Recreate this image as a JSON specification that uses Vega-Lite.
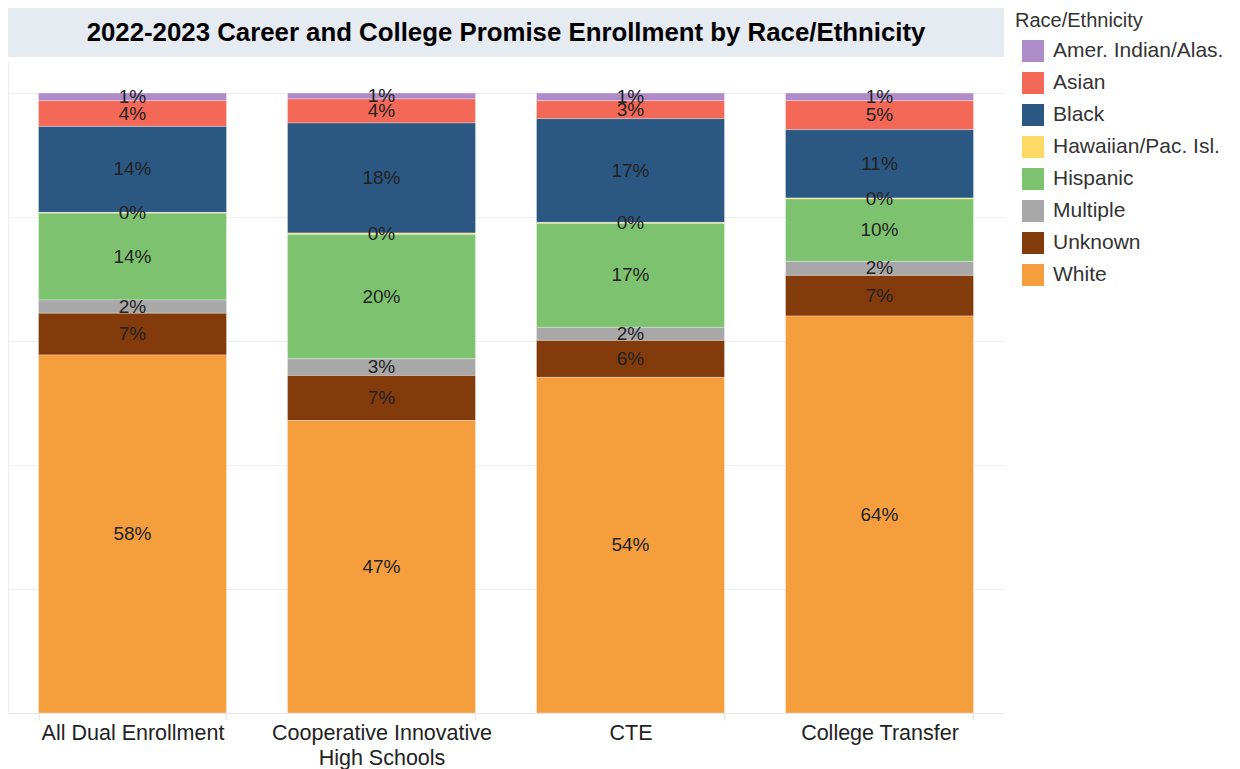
{
  "$schema": "https://vega.github.io/schema/vega-lite/v6.json",
  "padding": {"left": 8, "top": 8, "right": 0, "bottom": 0},
  "background": "white",
  "spacing": 5,
  "config": {"font": "Liberation Sans", "view": {"stroke": null}},
  "resolve": {"scale": {"color": "shared"}, "legend": {"color": "shared"}},
  "datasets": {
    "enroll": [
      {"program": "All Dual Enrollment", "race": "Amer. Indian/Alas.", "value": 0.0124},
      {"program": "All Dual Enrollment", "race": "Asian", "value": 0.0415},
      {"program": "All Dual Enrollment", "race": "Black", "value": 0.1387},
      {"program": "All Dual Enrollment", "race": "Hawaiian/Pac. Isl.", "value": 0.0012},
      {"program": "All Dual Enrollment", "race": "Hispanic", "value": 0.1400},
      {"program": "All Dual Enrollment", "race": "Multiple", "value": 0.0215},
      {"program": "All Dual Enrollment", "race": "Unknown", "value": 0.0672},
      {"program": "All Dual Enrollment", "race": "White", "value": 0.5775},
      {"program": "Cooperative Innovative High Schools", "race": "Amer. Indian/Alas.", "value": 0.0097},
      {"program": "Cooperative Innovative High Schools", "race": "Asian", "value": 0.0387},
      {"program": "Cooperative Innovative High Schools", "race": "Black", "value": 0.1774},
      {"program": "Cooperative Innovative High Schools", "race": "Hawaiian/Pac. Isl.", "value": 0.0025},
      {"program": "Cooperative Innovative High Schools", "race": "Hispanic", "value": 0.2005},
      {"program": "Cooperative Innovative High Schools", "race": "Multiple", "value": 0.0269},
      {"program": "Cooperative Innovative High Schools", "race": "Unknown", "value": 0.0726},
      {"program": "Cooperative Innovative High Schools", "race": "White", "value": 0.4717},
      {"program": "CTE", "race": "Amer. Indian/Alas.", "value": 0.0124},
      {"program": "CTE", "race": "Asian", "value": 0.0290},
      {"program": "CTE", "race": "Black", "value": 0.1673},
      {"program": "CTE", "race": "Hawaiian/Pac. Isl.", "value": 0.0016},
      {"program": "CTE", "race": "Hispanic", "value": 0.1677},
      {"program": "CTE", "race": "Multiple", "value": 0.0210},
      {"program": "CTE", "race": "Unknown", "value": 0.0597},
      {"program": "CTE", "race": "White", "value": 0.5413},
      {"program": "College Transfer", "race": "Amer. Indian/Alas.", "value": 0.0124},
      {"program": "College Transfer", "race": "Asian", "value": 0.0468},
      {"program": "College Transfer", "race": "Black", "value": 0.1102},
      {"program": "College Transfer", "race": "Hawaiian/Pac. Isl.", "value": 0.0016},
      {"program": "College Transfer", "race": "Hispanic", "value": 0.1006},
      {"program": "College Transfer", "race": "Multiple", "value": 0.0226},
      {"program": "College Transfer", "race": "Unknown", "value": 0.0655},
      {"program": "College Transfer", "race": "White", "value": 0.6403}
    ]
  },
  "vconcat": [
    {
      "width": 996,
      "height": 49,
      "view": {"fill": "#e6eaf1", "stroke": null},
      "data": {"values": [{"t": "2022-2023 Career and College Promise Enrollment by Race/Ethnicity"}]},
      "mark": {"type": "text", "fontSize": 25.8, "fontWeight": "bold", "color": "#000000"},
      "encoding": {"text": {"field": "t", "type": "nominal"}}
    },
    {
      "width": 996,
      "height": 651,
      "data": {"name": "enroll"},
      "transform": [
        {"stack": "value", "groupby": ["program"], "sort": [{"field": "race", "order": "descending"}], "as": ["y0", "y1"]},
        {"calculate": "(datum.y0 + datum.y1) / 2", "as": "mid"}
      ],
      "encoding": {
        "x": {
          "field": "program",
          "type": "nominal",
          "sort": ["All Dual Enrollment", "Cooperative Innovative High Schools", "CTE", "College Transfer"],
          "scale": {"paddingInner": 0.245, "paddingOuter": 0.1225},
          "axis": {
            "title": null,
            "labelAngle": 0,
            "labelFontSize": 21.5,
            "labelColor": "#222222",
            "labelPadding": 2,
            "labelLineHeight": 25,
            "labelLimit": 400,
            "labelExpr": "datum.label == 'Cooperative Innovative High Schools' ? ['Cooperative Innovative', 'High Schools'] : datum.label",
            "tickBand": "extent",
            "ticks": true,
            "tickSize": 7,
            "tickColor": "#e6e6e6",
            "domainColor": "#e6e6e6",
            "grid": false
          }
        }
      },
      "layer": [
        {
          "mark": {"type": "bar", "stroke": "white", "strokeWidth": 0.5, "strokeOpacity": 0.6},
          "encoding": {
            "y": {
              "field": "y1",
              "type": "quantitative",
              "scale": {"domain": [0, 1.05], "nice": false},
              "axis": {
                "title": null,
                "labels": false,
                "ticks": false,
                "domain": true,
                "domainColor": "#ececec",
                "grid": true,
                "gridColor": "#efefef",
                "values": [0, 0.2, 0.4, 0.6, 0.8, 1.0]
              }
            },
            "y2": {"field": "y0"},
            "color": {
              "field": "race",
              "type": "nominal",
              "scale": {
                "domain": ["Amer. Indian/Alas.", "Asian", "Black", "Hawaiian/Pac. Isl.", "Hispanic", "Multiple", "Unknown", "White"],
                "range": ["#ae8bc9", "#f36856", "#2b5783", "#ffd966", "#7dc36f", "#a8a8a8", "#843b0c", "#f59e3d"]
              },
              "legend": {
                "title": "Race/Ethnicity",
                "orient": "right",
                "offset": 8,
                "padding": 3,
                "titleFontSize": 20,
                "titleFontWeight": "normal",
                "titleColor": "#333333",
                "titlePadding": 9,
                "labelFontSize": 21,
                "labelColor": "#333333",
                "labelLimit": 300,
                "symbolType": "square",
                "symbolSize": 484,
                "symbolStrokeWidth": 0,
                "symbolOpacity": 1,
                "symbolOffset": 7,
                "labelOffset": 9,
                "rowPadding": 10
              }
            }
          }
        },
        {
          "mark": {"type": "text", "fontSize": 19, "color": "#222222"},
          "encoding": {
            "y": {"field": "mid", "type": "quantitative"},
            "text": {"field": "value", "type": "quantitative", "format": ".0%"}
          }
        }
      ]
    }
  ]
}
